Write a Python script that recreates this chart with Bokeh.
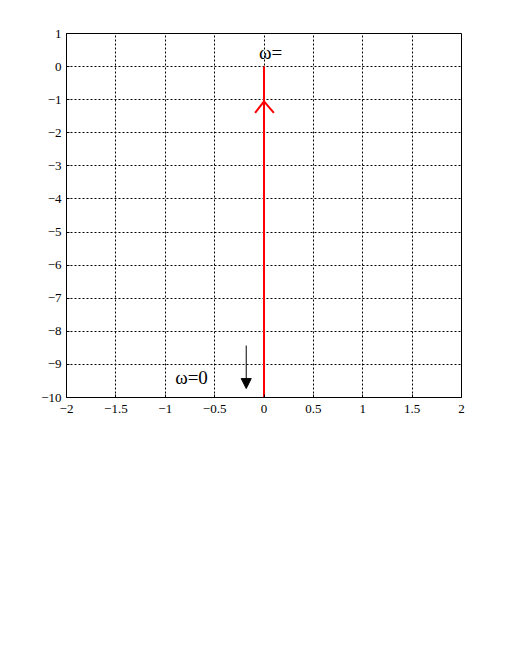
from bokeh.plotting import figure
from bokeh.models import FixedTicker, Arrow, NormalHead, ColumnDataSource
from bokeh.core.properties import value
from bokeh.embed import file_html
from bokeh.resources import INLINE

# locus (red) along imaginary axis
locus_re = [0, 0]
locus_im = [0, -10]
# direction chevron on the locus
chevron_re = [-0.09, 0, 0.1]
chevron_im = [-1.4, -1.05, -1.4]
# black arrow
arrow_re = [-0.18, -0.18]
arrow_im = [-8.43, -9.73]
# labels
label_text = ["ω=", "ω=0"]
label_re = [-0.05, -0.9]
label_im = [0.43, -9.4]

x_ticks = [-2, -1.5, -1, -0.5, 0, 0.5, 1, 1.5, 2]
x_tick_labels = ["−2", "−1.5", "−1", "−0.5", "0", "0.5", "1", "1.5", "2"]
y_ticks = [1, 0, -1, -2, -3, -4, -5, -6, -7, -8, -9, -10]
y_tick_labels = ["1", "0", "−1", "−2", "−3", "−4", "−5", "−6", "−7", "−8", "−9", "−10"]

p = figure(width=505, height=655, x_range=(-2, 2), y_range=(-10, 1),
           output_backend="svg", toolbar_location=None,
           frame_width=395, frame_height=364,
           min_border_left=66, min_border_top=33, min_border_right=44, min_border_bottom=258)
p.background_fill_color = "white"
p.border_fill_color = "white"
p.outline_line_color = "black"
p.outline_line_width = 1
p.outline_line_alpha = 1

p.xaxis.ticker = FixedTicker(ticks=x_ticks)
p.yaxis.ticker = FixedTicker(ticks=y_ticks)
p.xaxis.major_label_overrides = {t: l for t, l in zip(x_ticks, x_tick_labels)}
p.yaxis.major_label_overrides = {t: l for t, l in zip(y_ticks, y_tick_labels)}
for ax in (p.xaxis, p.yaxis):
    ax.axis_line_color = "black"
    ax.major_tick_in = 3
    ax.major_tick_out = 0
    ax.minor_tick_line_color = None
    ax.major_label_text_font = "Liberation Serif"
    ax.major_label_text_font_size = "13px"
    ax.major_label_text_color = "black"
p.xaxis.major_label_standoff = 7
p.yaxis.major_label_standoff = 5

p.xgrid.grid_line_color = "black"
p.ygrid.grid_line_color = "black"
p.xgrid.grid_line_dash = "2 2"
p.ygrid.grid_line_dash = "2 2"
p.xgrid.grid_line_alpha = 1
p.ygrid.grid_line_alpha = 1

p.line(locus_re, locus_im, line_color="red", line_width=2)
p.line(chevron_re, chevron_im, line_color="red", line_width=2)

p.add_layout(Arrow(end=NormalHead(size=10, fill_color="black", line_color="black"),
                   x_start=arrow_re[0], y_start=arrow_im[0],
                   x_end=arrow_re[1], y_end=arrow_im[1],
                   line_color="black", line_width=1))

src = ColumnDataSource(dict(x=label_re, y=label_im, t=label_text))
p.text(x="x", y="y", text="t", source=src, text_font=value("Liberation Serif"),
       text_font_size="19px", text_baseline="middle", text_align="left", text_color="black")

open("out.html", "w").write(file_html(p, INLINE))
